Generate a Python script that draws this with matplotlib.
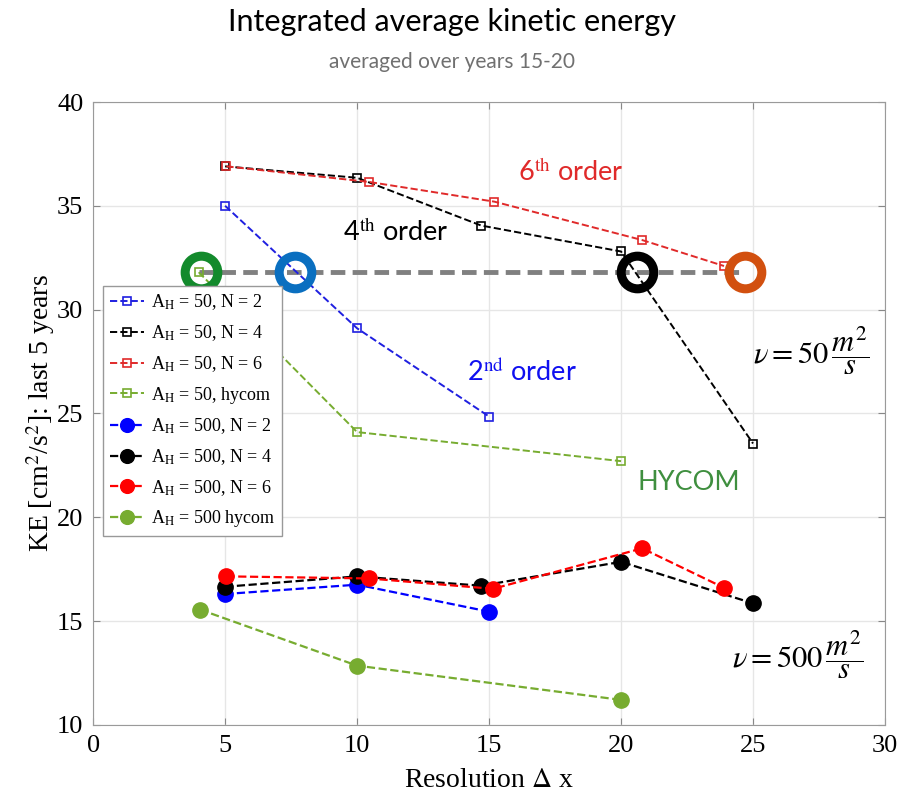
import numpy as np
import matplotlib.pyplot as plt

plt.rcParams['font.family'] = ['Liberation Serif', 'DejaVu Serif']
plt.rcParams['mathtext.fontset'] = 'stix'

# A_H = 50 (open squares)
dx_a50_n2 = [5, 10, 15]
ke_a50_n2 = [35.0, 29.1, 24.85]
dx_a50_n4 = [5, 10, 14.7, 20, 25]
ke_a50_n4 = [36.9, 36.35, 34.05, 32.8, 23.55]
dx_a50_n6 = [5.05, 10.45, 15.2, 20.8, 23.9]
ke_a50_n6 = [36.9, 36.15, 35.2, 33.35, 32.1]
dx_a50_hy = [4, 10, 20]
ke_a50_hy = [31.8, 24.1, 22.7]

# A_H = 500 (filled circles)
dx_a500_n2 = [5, 10, 15]
ke_a500_n2 = [16.3, 16.75, 15.45]
dx_a500_n4 = [5, 10, 14.7, 20, 25]
ke_a500_n4 = [16.65, 17.15, 16.7, 17.85, 15.85]
dx_a500_n6 = [5.05, 10.45, 15.15, 20.8, 23.9]
ke_a500_n6 = [17.15, 17.05, 16.55, 18.5, 16.6]
dx_a500_hy = [4.05, 10, 20]
ke_a500_hy = [15.55, 12.85, 11.2]

# reference level and where each order crosses it
ke_ref = 31.8
dx_ref = [4, 24.7]
dx_cross = [4.1, 7.65, 20.6, 24.7]
cross_colors = ['#138a2c', '#0a6fc0', 'black', '#d2500f']

blue = '#1f1fe0'
red = '#e02a2a'
green = '#77ac30'

fig = plt.figure(figsize=(9.04, 8.0), dpi=100)
ax = fig.add_axes([0.103, 0.094, 0.876, 0.7785])

ax.plot(dx_ref, [ke_ref, ke_ref], color='#808080', lw=3.5, ls=(0, (3, 1.5)), zorder=1)

sq = dict(ls='--', lw=1.4, marker='s', ms=6, mfc='none', mew=1.2, zorder=3)
ci = dict(ls='--', lw=1.6, marker='o', ms=11, zorder=3)
ax.plot(dx_a50_n2, ke_a50_n2, color=blue, label=r'A$_\mathrm{H}$ = 50, N = 2', **sq)
ax.plot(dx_a50_n4, ke_a50_n4, color='black', label=r'A$_\mathrm{H}$ = 50, N = 4', **sq)
ax.plot(dx_a50_n6, ke_a50_n6, color=red, label=r'A$_\mathrm{H}$ = 50, N = 6', **sq)
ax.plot(dx_a50_hy, ke_a50_hy, color=green, label=r'A$_\mathrm{H}$ = 50, hycom', **sq)
ax.plot(dx_a500_n2, ke_a500_n2, color='#0000ff', label=r'A$_\mathrm{H}$ = 500, N = 2', **ci)
ax.plot(dx_a500_n4, ke_a500_n4, color='black', label=r'A$_\mathrm{H}$ = 500, N = 4', **ci)
ax.plot(dx_a500_n6, ke_a500_n6, color='#ff0000', label=r'A$_\mathrm{H}$ = 500, N = 6', **ci)
ax.plot(dx_a500_hy, ke_a500_hy, color=green, label=r'A$_\mathrm{H}$ = 500 hycom', **ci)

for x, c in zip(dx_cross, cross_colors):
    ax.plot(x, ke_ref, marker='o', ms=23.5, mfc='none', mec=c, mew=6.5, zorder=5)

ax.set_xlim(0, 30)
ax.set_ylim(10, 40)
ax.set_xticks(np.arange(0, 31, 5))
ax.set_yticks(np.arange(10, 41, 5))
ax.grid(True, color='#e6e6e6', lw=1)
ax.set_axisbelow(True)
ax.tick_params(direction='in', labelsize=19, color='#888888', top=True, right=True,
               length=5, pad=7)
for s in ax.spines.values():
    s.set_color('#9a9a9a')

ax.set_xlabel(r'Resolution $\Delta$ x', fontsize=20, labelpad=8)
ax.set_ylabel(r'KE [cm$^2$/s$^2$]: last 5 years', fontsize=20, labelpad=0)

leg = ax.legend(loc='upper left', bbox_to_anchor=(0.013, 0.704), borderaxespad=0,
                fontsize=13, handlelength=1.9, handletextpad=0.4, labelspacing=0.6,
                borderpad=0.35, fancybox=False, edgecolor='#999999', framealpha=1,
                markerscale=0.9)
leg.get_frame().set_linewidth(1.0)

sans = ['Lato', 'DejaVu Sans']
ax.text(18.1, 36.6, r'6$^{\mathrm{th}}$ order', color=red, fontsize=19.5, family=sans,
        ha='center', va='center')
ax.text(11.45, 33.75, r'4$^{\mathrm{th}}$ order', color='black', fontsize=19.5, family=sans,
        ha='center', va='center')
ax.text(16.25, 27.0, r'2$^{\mathrm{nd}}$ order', color='#1010f0', fontsize=19.5, family=sans,
        ha='center', va='center')
ax.text(22.55, 21.65, 'HYCOM', color='#3f8f3f', fontsize=19.5, family=sans,
        ha='center', va='center')
ax.text(27.2, 28.0, r'$\nu = 50\,\dfrac{m^2}{s}$', fontsize=22, ha='center', va='center')
ax.text(26.7, 13.4, r'$\nu = 500\,\dfrac{m^2}{s}$', fontsize=22, ha='center', va='center')

fig.text(0.5, 0.972, 'Integrated average kinetic energy', fontsize=22, family=sans,
         ha='center', va='center')
fig.text(0.5, 0.922, 'averaged over years 15-20', fontsize=15, family=sans,
         color='#707070', ha='center', va='center')

fig.savefig('out.png', dpi=100)
